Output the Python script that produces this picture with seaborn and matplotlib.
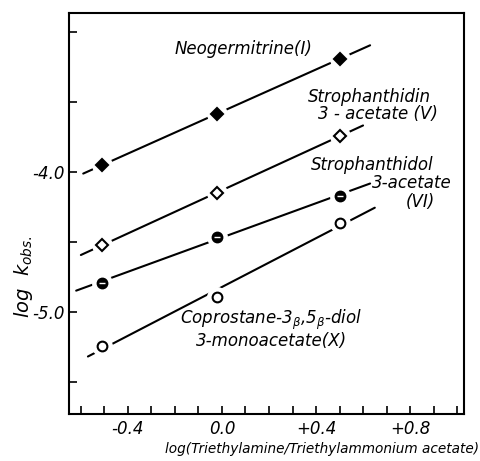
"""
Rate plot: log k_obs vs log(triethylamine / triethylammonium acetate)
"""

import numpy as np
import pandas as pd
import matplotlib
matplotlib.use("Agg")
import matplotlib.pyplot as plt
import seaborn as sns
from matplotlib.ticker import MultipleLocator

# ---- data ----
log_ratio = [-0.51, -0.02, 0.50]

neogermitrine = [-3.95, -3.58, -3.19]
strophanthidin = [-4.52, -4.15, -3.74]
strophanthidol = [-4.79, -4.46, -4.17]
coprostane = [-5.24, -4.89, -4.36]

# extent of each drawn line (x from / to)
line_extent = {
    "neogermitrine": (-0.59, 0.63),
    "strophanthidin": (-0.60, 0.60),
    "strophanthidol": (-0.62, 0.63),
    "coprostane": (-0.57, 0.65),
}

x_tick_values = [-0.4, 0.0, 0.4, 0.8]
x_tick_labels = ["-0.4", "0.0", "+0.4", "+0.8"]
y_tick_values = [-4.0, -5.0]
y_tick_labels = ["-4.0", "-5.0"]

sns.set_theme(style="ticks", rc={"text.color": "black",
                                 "xtick.color": "black",
                                 "ytick.color": "black"})
plt.rcParams["font.family"] = ["DejaVu Sans"]
plt.rcParams["mathtext.fontset"] = "dejavusans"

fig = plt.figure(figsize=(4.8, 4.61), dpi=100)
ax = fig.add_axes([0.144, 0.102, 0.823, 0.870])

series = [
    ("neogermitrine", neogermitrine, dict(marker="D", mfc="black", ms=6)),
    ("strophanthidin", strophanthidin, dict(marker="D", mfc="white", ms=6)),
    ("strophanthidol", strophanthidol, dict(marker="o", mfc="black", ms=7)),
    ("coprostane", coprostane, dict(marker="o", mfc="white", ms=7)),
]

for name, vals, mstyle in series:
    df = pd.DataFrame({"x": log_ratio, "y": vals})
    slope, icpt = np.polyfit(df["x"], df["y"], 1)
    x0, x1 = line_extent[name]
    fit = pd.DataFrame({"x": [x0, x1]})
    fit["y"] = slope * fit["x"] + icpt
    sns.lineplot(data=fit, x="x", y="y", ax=ax, color="black", lw=1.5,
                 zorder=2, legend=False)
    # white halo to break the line around each point
    ax.plot(df["x"], df["y"], ls="none", marker="o", ms=14, mfc="white",
            mec="white", zorder=3)
    ax.plot(df["x"], df["y"], ls="none", mec="black", mew=1.5, zorder=4,
            **mstyle)
    if name == "strophanthidol":
        ax.plot(df["x"], df["y"], ls="none", marker="_", ms=5, mec="white",
                mew=1.0, zorder=5)

ax.set_xlim(-0.65, 1.03)
ax.set_ylim(-5.73, -2.86)

ax.xaxis.set_minor_locator(MultipleLocator(0.1))
ax.yaxis.set_minor_locator(MultipleLocator(0.5))
ax.set_xticks(x_tick_values)
ax.set_xticklabels(x_tick_labels)
ax.set_yticks(y_tick_values)
ax.set_yticklabels(y_tick_labels)
ax.tick_params(which="both", direction="in", length=6, width=1.2,
               labelsize=12, color="black", labelcolor="black")
ax.tick_params(axis="x", pad=4)
ax.tick_params(axis="y", pad=3)
for lab in ax.get_xticklabels() + ax.get_yticklabels():
    lab.set_fontstyle("italic")

for sp in ax.spines.values():
    sp.set_linewidth(1.5)
    sp.set_color("black")

ax.set_xlabel("")
ax.set_ylabel("")

txt = dict(fontsize=12, fontstyle="italic", color="black")
ax.text(-0.20, -3.12, "Neogermitrine(I)", ha="left", va="center", **txt)
ax.text(0.365, -3.46, "Strophanthidin", ha="left", va="center", **txt)
ax.text(0.41, -3.58, "3 - acetate (V)", ha="left", va="center", **txt)
ax.text(0.38, -3.95, "Strophanthidol", ha="left", va="center", **txt)
ax.text(0.64, -4.08, "3-acetate", ha="left", va="center", **txt)
ax.text(0.78, -4.21, "(VI)", ha="left", va="center", **txt)
ax.text(-0.18, -5.055, r"Coprostane-3$_\beta$,5$_\beta$-diol", ha="left",
        va="center", **txt)
ax.text(-0.11, -5.205, "3-monoacetate(X)", ha="left", va="center", **txt)

fig.text(0.048, 0.40, r"log  k$_{obs.}$", rotation=90, ha="center",
         va="center", fontsize=14, fontstyle="italic", color="black")
fig.text(0.672, 0.025, "log(Triethylamine/Triethylammonium acetate)",
         ha="center", va="center", fontsize=9.8, fontstyle="italic",
         color="black")

fig.savefig("out.png", dpi=100)
plt.close(fig)
